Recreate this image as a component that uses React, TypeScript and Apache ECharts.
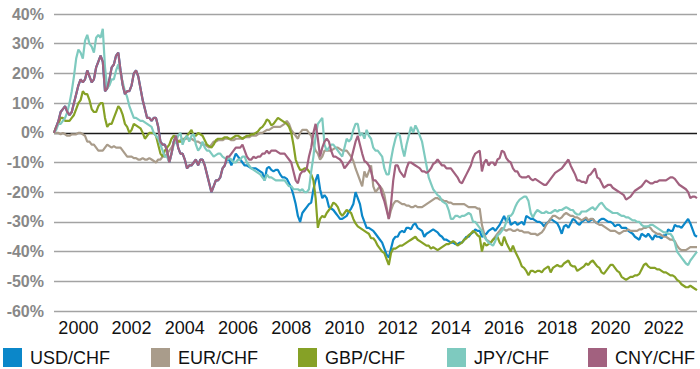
import React, { useEffect, useRef } from "react";
import * as echarts from "echarts";

// Monthly observations, Feb 1999 .. Apr 2023, % change vs. start
const START_YEAR = 1999;
const START_MONTH = 2;
const N_POINTS = 291;

const seriesNames = ["USD/CHF", "EUR/CHF", "GBP/CHF", "JPY/CHF", "CNY/CHF"];
const seriesColors = ["#0b87c9", "#a99c8b", "#86a126", "#7ecabf", "#a2617f"];
const yTicks = { min: -60, max: 40, step: 10 };
const legendLefts = [3, 151, 298, 447, 588];

const usdChf = [
  0, 2, 4, 7, 8, 9, 7, 6, 7, 10, 13, 16,
  18, 17, 18, 21, 19, 17, 18, 22, 24, 26, 24, 14,
  15, 18, 22, 23, 26, 27, 21, 16, 13, 14, 14, 16,
  20, 21, 19, 15, 11, 8, 5, 5, 4, 5, 5, 2,
  -3, -4, -4, -6, -10, -7, -3, -1, -5, -7, -7, -9,
  -12, -11, -11, -10, -9, -11, -9, -9, -11, -14, -17, -20,
  -18, -16, -16, -15, -12, -11, -9, -9, -11, -9, -7, -8,
  -9, -10, -11, -11, -11.5, -12, -12, -12, -12.5, -13, -13.5, -16,
  -12, -11.5, -12.5, -13, -12.5, -12.5, -14, -15, -15, -15.5, -17, -18.5,
  -21, -24, -28, -30, -27, -26, -25, -24, -23.5, -19, -16, -14,
  -19, -22, -21, -22, -25, -25.5, -26, -27, -28, -29, -29, -28.5,
  -28, -26.5, -25.5, -24, -20, -22, -24, -28, -30, -32, -32, -32.5,
  -33, -34, -35, -36, -37, -39, -41, -42, -39, -36, -35, -35,
  -33.5, -33, -33.5, -32, -32, -32.5, -31, -30.5, -32, -32.5, -33, -35,
  -34, -33.5, -33, -32.5, -33, -33.5, -34.5, -35, -36, -36, -36.5, -37,
  -37, -37.5, -37.5, -37, -37, -36, -35, -35, -34, -33.5, -32.5, -33,
  -33, -35, -34.5, -34, -33, -32.5, -32, -33, -32, -31, -29.5, -28,
  -30, -28, -31, -30.5, -30, -31, -30.5, -30, -31, -28, -28.5, -29,
  -29, -29.5, -30, -30, -30.5, -31.5, -30.5, -30, -29, -29.5, -30, -30.5,
  -32, -34, -31.5, -31, -32, -30.5, -29, -29.5, -30.5, -31, -30, -29.5,
  -29, -30, -29.5, -29, -30, -30.5, -29.5, -29, -29, -29.5, -30, -30,
  -30.5, -31.5, -31, -31, -32, -32, -32, -33, -33.5, -34, -35, -35.5,
  -36, -34, -34.5, -35, -34, -35, -36, -34.5, -35, -35, -35.5, -34.5,
  -34.5, -32.5, -33, -33, -31, -31.5, -31.5, -32, -31, -30, -29, -30.5,
  -32.5, -34.5, -35,
];

const eurChf = [
  0, 0, 0, -0.5, 0, -0.5, -1, -1, -0.5, -0.5, -0.5, 0,
  0, -0.5, -1, -3, -3, -4, -4, -5, -6, -6, -6, -5,
  -4, -4.5, -5, -4.5, -5, -5, -5, -6, -7, -8, -8, -8,
  -8.5, -8.5, -9, -9, -8.5, -9, -9, -8.5, -9, -9.5, -10, -9,
  -9, -8, -8, -7, -6, -5, -3.5, -3, -3, -2.5, -2, -2,
  -2, -2, -2, -2.5, -3, -3, -3.5, -4, -4, -4.5, -5, -4,
  -3, -3, -2.5, -2.5, -2.5, -2, -2, -2, -2.5, -2.5, -2, -2,
  -2, -2, -1.5, -1.5, -1.5, -1, -1, -1, -0.5, 0, 0, 0.5,
  1, 1, 1.5, 2, 2, 2, 2, 2.5, 3, 4, 3, 1,
  0, -1, -2, 0, 1, 1, 1, 0, -1, -4, -6, -7,
  -9, -8, -6, -6, -6, -6, -5.5, -5, -5, -5.5, -6, -6,
  -6, -7, -8, -9.5, -12, -14, -16, -18, -13, -15, -13, -11,
  -18, -20, -19, -18, -19, -21, -25, -29, -26, -24, -23, -23,
  -23.5, -24, -24, -24.5, -24.5, -25, -25, -24.5, -25, -25, -25, -24.5,
  -24, -23.5, -23, -22.5, -22, -22, -22.5, -22.5, -23, -23, -23.5, -23.5,
  -24, -24, -24, -24, -24, -24, -24.5, -25, -25, -25, -25, -25.5,
  -25.5, -31, -34, -36, -36.5, -37, -36, -35, -34, -33, -32, -32.5,
  -33, -32.5, -32.5, -33, -33, -32.5, -33, -33, -33.5, -33.5, -33.5, -34,
  -34, -34, -34.5, -34, -33.5, -32.5, -31, -30, -29, -28, -28, -28.5,
  -29, -28.5, -27.5, -27, -27.5, -28, -28, -28.5, -28.5, -29, -29.5, -29,
  -28.5, -29.5, -29, -29, -30, -30.5, -31, -31, -31.5, -32, -32.5, -33,
  -33, -33, -33.5, -34, -33.5, -33, -33, -32.5, -33, -33, -33, -33,
  -32.5, -32.5, -32, -32, -31.5, -32, -33, -33.5, -34, -34, -34.5, -35,
  -35, -35.5, -36, -36, -36.5, -38, -39, -39.5, -39.5, -39.5, -39, -38.5,
  -38.5, -38.5, -38.5,
];

const gbpChf = [
  0, 2, 3, 5, 5, 4, 4, 4, 5, 6, 8, 10,
  11, 14, 13, 13, 11, 8, 7, 7, 9, 10, 10, 5,
  2, 3, 3, 5, 7, 9, 8, 6, 3, 2, 0, 1,
  3, 2.5, 2, 1.5, 0, -2, -1, 0, 0, 0, -1, -4,
  -7, -8, -6, -5, -4, -2, -1, -1.5, -3, -3, -3, -2,
  -1, 0, 1, -1, -1, 0, -0.5, -1, -2.5, -4, -4.5, -5,
  -4, -2.5, -2, -2, -2, -1.5, -1.5, -2, -2, -1.5, -1, -1,
  -1.5, -2, -1.5, -1, -1, -0.5, -0.5, 0, 0.5, 1.5, 2, 3,
  4.5, 4, 2.5, 3, 4, 5, 4.5, 4, 3.5, 3, 2, 0,
  -4, -9, -11, -12.5, -12.5, -12, -12, -13, -14, -16, -22, -32,
  -29, -28, -28.5, -27, -26, -25, -23.5, -24, -25, -27, -28, -27,
  -26, -26.5, -27, -29, -30.5, -31.5, -32, -32.5, -33, -33.5, -34, -35.5,
  -35.5, -36.5, -38, -39, -40, -40.5, -42.5, -44.5, -40.5, -39, -39, -38.5,
  -38, -38, -37.5, -37, -36.5, -36, -35.5, -35, -36, -36.5, -37, -37.5,
  -38, -38, -39, -38.5, -39, -39.5, -39, -38.5, -38, -37.5, -37.5, -37,
  -36.5, -37, -38, -37.5, -37, -36, -35.5, -34.5, -34, -33, -33.5, -34.5,
  -35, -40, -37, -38, -37.5, -37, -36, -35.5, -35, -37, -38, -35,
  -37, -38.5, -40, -38, -40, -41.5, -43, -45, -45.5, -46.5, -48, -46.5,
  -46.5, -47, -46.5, -46.5, -47, -46, -45.5, -45, -47, -45.5, -45, -44.5,
  -45, -45, -44, -43.5, -43, -44.5, -45, -45, -46.5, -46, -45.5, -45,
  -44, -44.5, -43.5, -43, -44, -45, -45.5, -47, -47.5, -46.5, -45.5, -44.5,
  -44.5, -45.5, -46.5, -47, -48.5, -49, -49.5, -49, -48.5, -48.5, -48, -48,
  -47.5, -46, -44.5, -44, -45, -45.5, -45.5, -45.5, -46, -46, -46.5, -47,
  -47, -47.5, -48, -48, -48.5, -49.5, -50, -51, -51.5, -52, -52, -51.5,
  -52, -52.5, -53,
];

const jpyChf = [
  0, 1, 3, 3, 4, 5, 7, 10, 14, 19, 25, 28,
  27, 25, 31, 33, 30, 29, 27, 32, 33, 32, 35, 22,
  15, 16, 18, 18, 21, 23, 20, 17, 14, 12, 9, 7,
  5, 5, 4.5, 4, 4, 3.5, 3, 2.5, 2, 0, -1, -2,
  -4, -6, -8, -8, -10, -7, -4, -3, -1, 0, -4, -2,
  -1, -3, -1, -0.5, -4, -6, -5, -3, -5, -6, -6, -7,
  -8, -7.5, -7, -7, -8, -8.5, -9, -8.5, -9, -10, -10, -9,
  -9, -8, -8, -10, -11, -12, -12.5, -13, -13.5, -14, -15, -16,
  -14, -15, -15, -15.5, -16, -16, -16, -16, -16, -17, -18, -18,
  -19, -19, -19, -19.5, -19, -20, -20, -19, -13, -8, -1, 3,
  4, 5, -4, -6, -5, -4, -4, -5, -6, -7, -8, -5,
  -2, -3, -2, 1, 3, 3, -1, 0, -2, 1, -1, -2,
  -5, -6, -6, -7, -8, -12, -14, -14, -9, -5, -2, 0,
  -1, -5, -8, -4, -1, 2, 0, 2.5, 1, -1, -3, -7,
  -11, -15, -17, -19, -20, -21, -21.5, -23, -23.5, -24, -26, -29,
  -29, -28, -28, -28.5, -28, -28, -27.5, -27, -27.5, -30, -30, -31,
  -32, -33, -35, -36, -37, -37.5, -38, -36.5, -34.5, -34, -33, -32,
  -30, -28, -28, -27, -25, -23.5, -22.5, -22, -21.5, -21.5, -23, -27,
  -28.5, -27, -26, -26.5, -27, -27, -26.5, -27, -27, -26.5, -26, -26.5,
  -26, -26, -25.5, -25, -25.5, -26, -26, -27, -27.5, -27.5, -26.5, -26.5,
  -26.5, -26, -25.5, -25, -26, -25, -24, -23.5, -24.5, -25.5, -26, -26.5,
  -27, -27, -27, -27.5, -28, -28, -28.5, -28.5, -29, -29.5, -29.5, -30,
  -30, -31, -31.5, -31.5, -31.5, -31, -31, -31.5, -32, -32.5, -33, -33.5,
  -33.5, -34, -34, -35, -37, -40, -41, -42, -43, -44, -44.5, -43,
  -42, -41, -40,
];

const cnyChf = [
  0, 2, 4, 7, 8, 9, 7, 6, 7, 10, 13, 16,
  18, 17, 18, 21, 19, 17, 18, 22, 24, 26, 24, 14,
  15, 18, 22, 23, 26, 27, 21, 16, 13, 14, 14, 16,
  20, 21, 19, 15, 11, 8, 5, 5, 4, 5, 5, 2,
  -3, -4, -4, -6, -10, -7, -3, -1, -5, -7, -7, -9,
  -12, -11, -11, -10, -9, -11, -9, -9, -11, -14, -17, -20,
  -18, -16, -16, -15, -12, -11, -8, -8, -7, -6, -5, -5,
  -5, -4, -6, -8, -9, -9, -8, -8.5, -8, -8, -7, -7,
  -6, -7, -6, -6, -6, -6.5, -7, -7, -7, -8, -9, -10,
  -13, -16, -17, -14, -13, -13, -12, -8, -5, 0, 3, -2,
  -8, -5, -3, -2, -3, -6, -8, -8, -8.5, -9, -10, -12,
  -11, -10, -9, -6, -3, -1, -4, -7, -9.5, -10, -11, -13,
  -16, -16, -17, -18, -21, -23, -26, -29, -24, -16, -11, -11,
  -13, -14, -15, -12, -10, -10, -10.5, -11, -11.5, -12, -13, -13,
  -13.5, -13, -12, -10.5, -10, -9, -10, -11, -11, -12, -12, -12,
  -13, -14, -15, -16.5, -17, -15.5, -14, -12.5, -11, -8.5, -7, -6.5,
  -6, -13, -10, -9, -11, -10, -10, -11, -9, -8.5, -6, -6.5,
  -8.5, -9.5, -10, -12, -13, -13, -14.5, -15, -15, -15, -14.5, -15.5,
  -16, -15.5, -16, -16.5, -17, -17.5, -17.5, -16.5, -15.5, -14.5, -13.5, -13,
  -12.5, -12, -11, -10, -9, -11, -12.5, -14, -16, -16, -16.5, -16.5,
  -17, -14.5, -14, -13, -12, -15, -15.5, -17, -18.5, -18, -17.5, -17.5,
  -18.5, -19, -19.5, -20, -20.5, -21, -22.5, -22, -21.5, -20.5, -19.5, -19,
  -18.5, -18, -17, -16, -16.5, -17, -17, -16.5, -16.5, -16, -16, -16,
  -16, -15.5, -15, -15, -15.5, -16.5, -17.5, -18, -18.5, -19, -20, -22,
  -21.5, -21.5, -22,
];

const seriesValues = [usdChf, eurChf, gbpChf, jpyChf, cnyChf];

function buildMonths(): string[] {
  const out: string[] = [];
  for (let k = 0; k < N_POINTS; k++) {
    const m0 = START_MONTH - 1 + k;
    const y = START_YEAR + Math.floor(m0 / 12);
    const mo = (m0 % 12) + 1;
    out.push(`${y}-${String(mo).padStart(2, "0")}`);
  }
  return out;
}

const FONT = "'Liberation Sans', Arial, Helvetica, sans-serif";

export default function App() {
  const ref = useRef<HTMLDivElement>(null);

  useEffect(() => {
    if (!ref.current) return;
    const chart = echarts.init(ref.current, undefined, { renderer: "svg" });
    const months = buildMonths();
    const nLines = (yTicks.max - yTicks.min) / yTicks.step + 1;
    const splitColors: string[] = [];
    for (let k = 0; k < nLines; k++) {
      const v = yTicks.min + k * yTicks.step;
      splitColors.push(v === 0 ? "#1a1a1a" : "#a3a3a3");
    }

    chart.setOption({
      animation: false,
      backgroundColor: "#ffffff",
      grid: { left: 54, right: 3, top: 14, bottom: 58, containLabel: false },
      xAxis: {
        type: "category",
        data: months,
        boundaryGap: false,
        axisLine: { show: false },
        axisTick: { show: false },
        splitLine: { show: false },
        axisLabel: {
          interval: (_i: number, v: string) =>
            v.endsWith("-01") && Number(v.slice(0, 4)) % 2 === 0,
          formatter: (v: string) => v.slice(0, 4),
          color: "#111111",
          fontSize: 18,
          fontFamily: FONT,
          margin: 8,
        },
      },
      yAxis: {
        type: "value",
        min: yTicks.min,
        max: yTicks.max,
        interval: yTicks.step,
        axisLine: { show: false },
        axisTick: { show: false },
        axisLabel: {
          formatter: (v: number) => `${v}%`,
          color: "#888888",
          fontSize: 16,
          fontWeight: "bold",
          fontFamily: FONT,
          margin: 10,
        },
        splitLine: {
          show: true,
          lineStyle: { color: splitColors, width: 1.3 },
        },
      },
      legend: seriesNames.map((n, k) => ({
        data: [n],
        left: legendLefts[k],
        top: 348,
        padding: 0,
        itemWidth: 19,
        itemHeight: 19,
        icon: "rect",
        itemStyle: { borderWidth: 0 },
        textStyle: {
          fontSize: 18,
          color: "#111111",
          fontFamily: FONT,
          padding: [0, 0, 0, 3],
        },
      })),
      series: seriesNames.map((n, k) => ({
        name: n,
        type: "line",
        data: seriesValues[k],
        symbol: "none",
        smooth: false,
        color: seriesColors[k],
        lineStyle: { width: 2.2, color: seriesColors[k] },
        itemStyle: { color: seriesColors[k] },
      })),
    });

    return () => chart.dispose();
  }, []);

  return (
    <div
      ref={ref}
      style={{ position: "fixed", left: 0, top: 0, width: 700, height: 369 }}
    />
  );
}
